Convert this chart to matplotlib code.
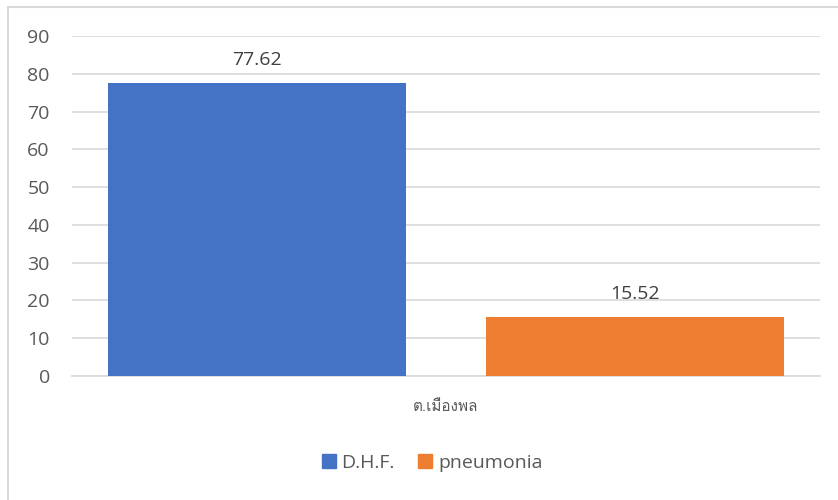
import matplotlib
matplotlib.use("Agg")
import matplotlib.pyplot as plt
from matplotlib import font_manager
from matplotlib.patches import Rectangle, Patch

categories = ["ต.เมืองพล"]
series_names = ["D.H.F.", "pneumonia"]
series_values = [[77.62], [15.52]]
colors = ["#4472C4", "#ED7D31"]
yticks = [0, 10, 20, 30, 40, 50, 60, 70, 80, 90]

# find a font with Thai glyphs
thai_font = None
try:
    from fontTools.ttLib import TTFont
    for f in font_manager.fontManager.ttflist:
        try:
            tt = TTFont(f.fname, fontNumber=0, lazy=True)
            cmap = tt.getBestCmap()
            if cmap and 0x0E40 in cmap and 0x0E15 in cmap:
                thai_font = f.name
                break
        except Exception:
            pass
except Exception:
    pass

base = "Open Sans"
plt.rcParams['font.family'] = [base, 'DejaVu Sans']

fig = plt.figure(figsize=(8.38, 5.0), dpi=100)
fig.patches.append(Rectangle((7.5 / 838, -0.1), 2.0, 1.1 - 7.5 / 500,
                             transform=fig.transFigure, fill=False,
                             edgecolor="#D9D9D9", linewidth=1.5))
ax = fig.add_axes([72 / 838, 1 - 376 / 500, (820 - 72) / 838, (376 - 36) / 500])

width = 0.398
offsets = [-0.0535 - width / 2, 0.0535 + width / 2]
for i, (name, vals) in enumerate(zip(series_names, series_values)):
    xs = [k + offsets[i] for k in range(len(categories))]
    bars = ax.bar(xs, vals, width=width, color=colors[i], label=name, zorder=3)
    for b, v in zip(bars, vals):
        ax.annotate(f"{v:.2f}", (b.get_x() + b.get_width() / 2, v),
                    xytext=(0, 13), textcoords="offset points",
                    ha="center", va="baseline", fontsize=14, color="#404040")

ax.set_xlim(-0.5, len(categories) - 0.5)
ax.set_ylim(0, 90)
ax.set_yticks(yticks)
ax.set_yticklabels([str(t) for t in yticks], fontsize=14, color="#595959")
ax.tick_params(axis="y", length=0, pad=16)
ax.set_xticks(range(len(categories)))
cat_family = [thai_font, base] if thai_font else [base]
ax.set_xticklabels(categories, fontsize=11, color="#595959", family=cat_family)
ax.tick_params(axis="x", length=0, pad=17)
ax.grid(axis="y", color="#D9D9D9", linewidth=1.2, zorder=0)
for s in ["top", "right", "left"]:
    ax.spines[s].set_visible(False)
ax.spines["bottom"].set_color("#D9D9D9")
ax.spines["bottom"].set_linewidth(1.2)

handles = [Patch(color=c) for c in colors]
fig.legend(handles, series_names, loc="center", bbox_to_anchor=(432 / 838, 1 - 463 / 500),
           ncol=2, frameon=False, fontsize=14, handlelength=0.72, handleheight=0.72,
           handletextpad=0.3, columnspacing=1.2, labelcolor="#595959")

fig.savefig("out.png", dpi=100)
